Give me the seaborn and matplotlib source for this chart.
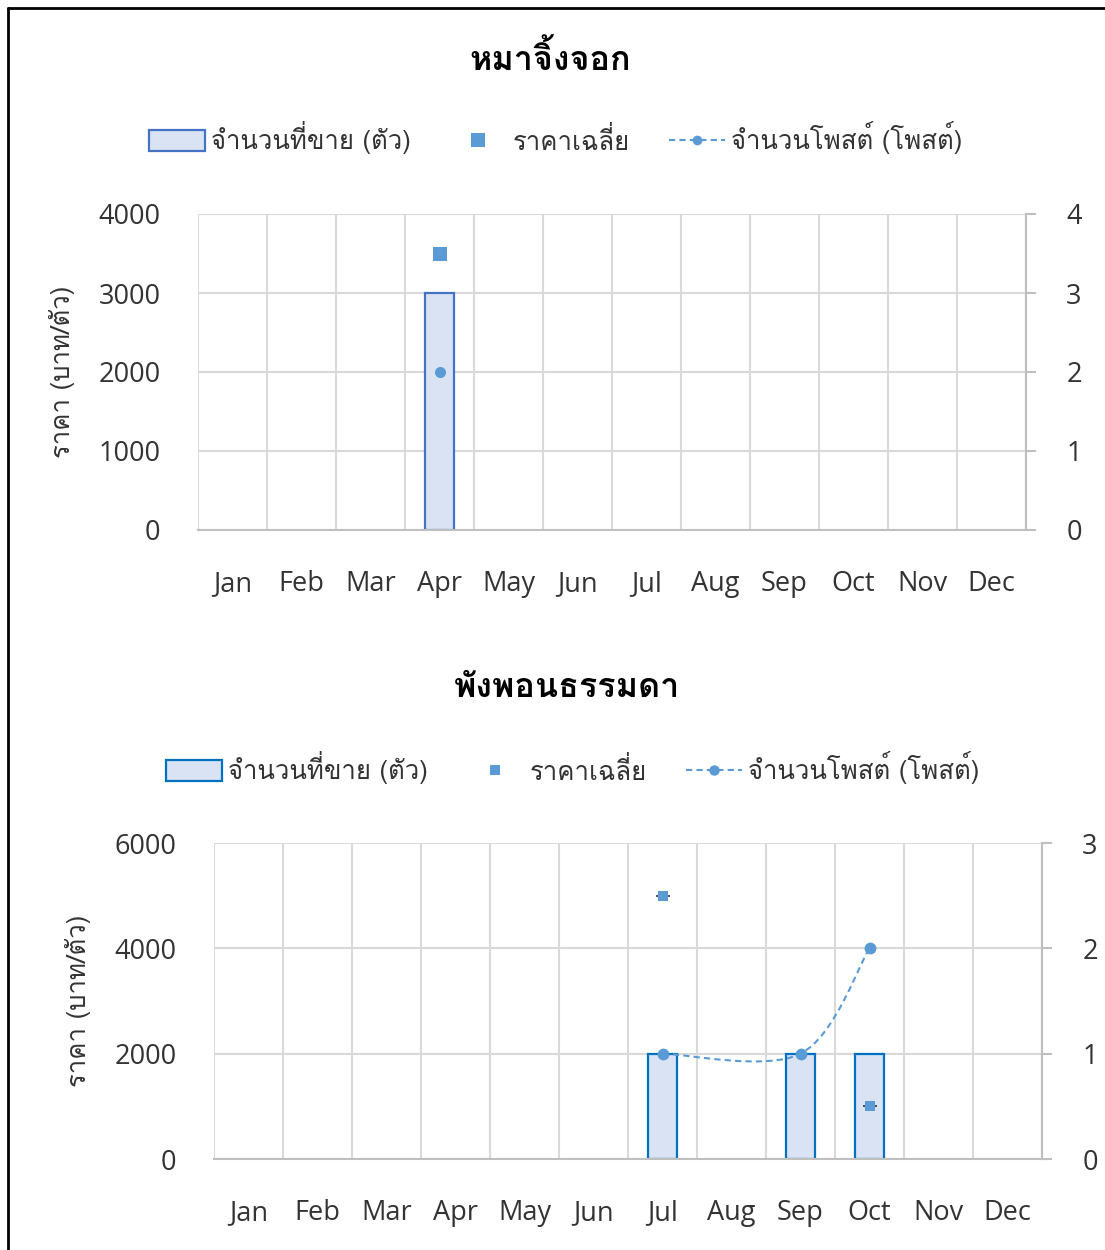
import numpy as np
import pandas as pd
import matplotlib
matplotlib.use("Agg")
import matplotlib.pyplot as plt
import seaborn as sns
from matplotlib.path import Path
from matplotlib.patches import PathPatch, Patch
from matplotlib.lines import Line2D

# ---------------- data ----------------
months = ["Jan", "Feb", "Mar", "Apr", "May", "Jun", "Jul", "Aug", "Sep", "Oct", "Nov", "Dec"]

title1 = "หมาจิ้งจอก"
qty1 = [np.nan, np.nan, np.nan, 3, np.nan, np.nan, np.nan, np.nan, np.nan, np.nan, np.nan, np.nan]
price1 = [np.nan, np.nan, np.nan, 3500, np.nan, np.nan, np.nan, np.nan, np.nan, np.nan, np.nan, np.nan]
posts1 = [np.nan, np.nan, np.nan, 2, np.nan, np.nan, np.nan, np.nan, np.nan, np.nan, np.nan, np.nan]
price_ticks1 = [0, 1000, 2000, 3000, 4000]
qty_ticks1 = [0, 1, 2, 3, 4]

title2 = "พังพอนธรรมดา"
qty2 = [np.nan, np.nan, np.nan, np.nan, np.nan, np.nan, 1, np.nan, 1, 1, np.nan, np.nan]
price2 = [np.nan, np.nan, np.nan, np.nan, np.nan, np.nan, 5000, np.nan, np.nan, 1000, np.nan, np.nan]
posts2 = [np.nan, np.nan, np.nan, np.nan, np.nan, np.nan, 1, np.nan, 1, 2, np.nan, np.nan]
price_ticks2 = [0, 2000, 4000, 6000]
qty_ticks2 = [0, 1, 2, 3]

lbl_qty = "จำนวนที่ขาย (ตัว)"
lbl_price = "ราคาเฉลี่ย"
lbl_posts = "จำนวนโพสต์ (โพสต์)"
ylabel = "ราคา (บาท/ตัว)"

# ---------------- style ----------------
sns.set_theme(style="white")
plt.rcParams['font.family'] = ['Open Sans', 'DejaVu Sans']
THAI = ['Loma', 'DejaVu Sans']
GRID = '#D9D9D9'
AXC = '#BFBFBF'
TXT = '#333333'
BAR_FACE = '#DAE3F3'
MARK = '#5B9BD5'
TICK_FS = 19.5

W, H = 1105, 1250
fig = plt.figure(figsize=(W / 100, H / 100), dpi=100)


def fx(px):
    return px / W


def fy(py):
    return 1 - py / H


def smooth_path(xs, ys):
    """Excel-like smoothed line (Catmull-Rom -> cubic Bezier) through data points."""
    pts = np.column_stack([xs, ys])
    n = len(pts)
    verts = [pts[0]]
    codes = [Path.MOVETO]
    for i in range(n - 1):
        p_prev = pts[i - 1] if i > 0 else pts[i]
        p0 = pts[i]
        p1 = pts[i + 1]
        p_next = pts[i + 2] if i + 2 < n else pts[i + 1]
        c1 = p0 + (p1 - p_prev) / 6.0
        c2 = p1 - (p_next - p0) / 6.0
        verts += [c1, c2, p1]
        codes += [Path.CURVE4] * 3
    return Path(verts, codes)


def panel(box, title, title_xy, legend_xy, qty, price, posts, pticks, qticks,
          edge, sq_size, circ_size, err_caps):
    left, top, right, bottom = box
    ax = fig.add_axes([fx(left), fy(bottom), fx(right - left), fy(top) - fy(bottom)])
    df = pd.DataFrame({"month": months, "qty": qty, "price": price, "posts": posts})

    # bars: quantity sold (right-hand scale)
    sns.barplot(data=df, x="month", y="qty", order=months, ax=ax, width=0.41,
                color=BAR_FACE, edgecolor=edge, linewidth=1.6, saturation=1, errorbar=None)
    ax.set_xlim(-0.5, 11.5)
    ax.set_ylim(qticks[0], qticks[-1])
    ax.set_yticks(qticks)
    ax.set_xticks(np.arange(-0.5, 12, 1), minor=True)
    ax.grid(True, which='minor', axis='x', color=GRID, lw=1.5)
    ax.grid(True, which='major', axis='y', color=GRID, lw=1.5)
    ax.grid(False, which='major', axis='x')
    ax.set_axisbelow(True)
    ax.set_xlabel("")
    ax.set_ylabel("")

    # posts: smoothed dashed line with round markers (right-hand scale)
    xi = np.array([i for i, v in enumerate(posts) if not np.isnan(v)], dtype=float)
    yi = np.array([v for v in posts if not np.isnan(v)], dtype=float)
    if len(xi) > 1:
        ax.add_patch(PathPatch(smooth_path(xi, yi), fill=False, edgecolor=MARK,
                               lw=1.5, ls=(0, (3, 2)), zorder=3))
    sns.scatterplot(x=xi, y=yi, ax=ax, marker='o', s=circ_size ** 2, color=MARK,
                    edgecolor=MARK, linewidth=0, zorder=4, legend=False)

    # price: square markers (left-hand scale)
    axp = ax.twinx()
    px = np.array([i for i, v in enumerate(price) if not np.isnan(v)], dtype=float)
    pv = np.array([v for v in price if not np.isnan(v)], dtype=float)
    if err_caps:
        axp.plot(px, pv, ls='none', marker='_', ms=sq_size + 3, mew=1.2, color='#333333', zorder=4)
    sns.scatterplot(x=px, y=pv, ax=axp, marker='s', s=sq_size ** 2, color=MARK,
                    edgecolor=MARK, linewidth=0, zorder=5, legend=False)
    axp.set_xlim(-0.5, 11.5)
    axp.set_ylim(pticks[0], pticks[-1])
    axp.set_yticks(pticks)
    axp.yaxis.tick_left()
    axp.yaxis.set_label_position('left')
    for s in axp.spines.values():
        s.set_visible(False)
    axp.tick_params(axis='y', left=False, right=False, length=0, pad=27,
                    labelsize=TICK_FS, labelcolor=TXT)
    axp.set_ylabel(ylabel, family=THAI, fontsize=18.5, color=TXT)
    axp.yaxis.set_label_coords(-0.1486, 0.5)

    # main axis: quantity ticks on the right (after twinx, which resets them)
    ax.yaxis.tick_right()
    for s in ['top', 'left']:
        ax.spines[s].set_visible(False)
    for s in ['bottom', 'right']:
        ax.spines[s].set_visible(True)
        ax.spines[s].set_color(AXC)
        ax.spines[s].set_linewidth(1.5)
    ax.tick_params(axis='y', which='major', right=True, left=False, labelright=True,
                   labelleft=False, length=7, width=1.5, color=AXC, direction='out',
                   pad=22, labelsize=TICK_FS, labelcolor=TXT)
    ax.tick_params(axis='x', which='both', bottom=False, length=0, pad=29,
                   labelsize=TICK_FS, labelcolor=TXT)

    fig.text(fx(title_xy[0]), fy(title_xy[1]), title, family=THAI, fontsize=24.5,
             weight='bold', ha='center', va='center', color='black')

    handles = [
        Patch(facecolor=BAR_FACE, edgecolor=edge, linewidth=1.6),
        Line2D([], [], ls='none', marker='s', ms=sq_size, color=MARK, mew=0),
        Line2D([], [], ls=(0, (3, 2)), lw=1.5, marker='o', ms=circ_size - 1, color=MARK, mew=0),
    ]
    leg = fig.legend(handles, [lbl_qty, lbl_price, lbl_posts], loc='center',
                     bbox_to_anchor=(fx(legend_xy[0]), fy(legend_xy[1])), ncol=3,
                     frameon=False, handlelength=2.15, handleheight=0.9,
                     handletextpad=0.25, columnspacing=1.55,
                     prop={'family': THAI, 'size': 18.5})
    for t in leg.get_texts():
        t.set_color(TXT)
    return ax, axp


panel((198, 214, 1026, 530), title1, (550, 58), (556, 138), qty1, price1, posts1,
      price_ticks1, qty_ticks1, '#4472C4', 10, 8, False)
panel((214, 843, 1042, 1159), title2, (567, 688), (573, 768), qty2, price2, posts2,
      price_ticks2, qty_ticks2, '#0070C0', 7, 8.5, True)

# frame lines (top and left) of the pasted image
fig.add_artist(Line2D([fx(8), 1], [fy(8), fy(8)], color='black', lw=2))
fig.add_artist(Line2D([fx(8), fx(8)], [fy(8), 0], color='black', lw=2))

fig.savefig("out.png", dpi=100, facecolor='white')
